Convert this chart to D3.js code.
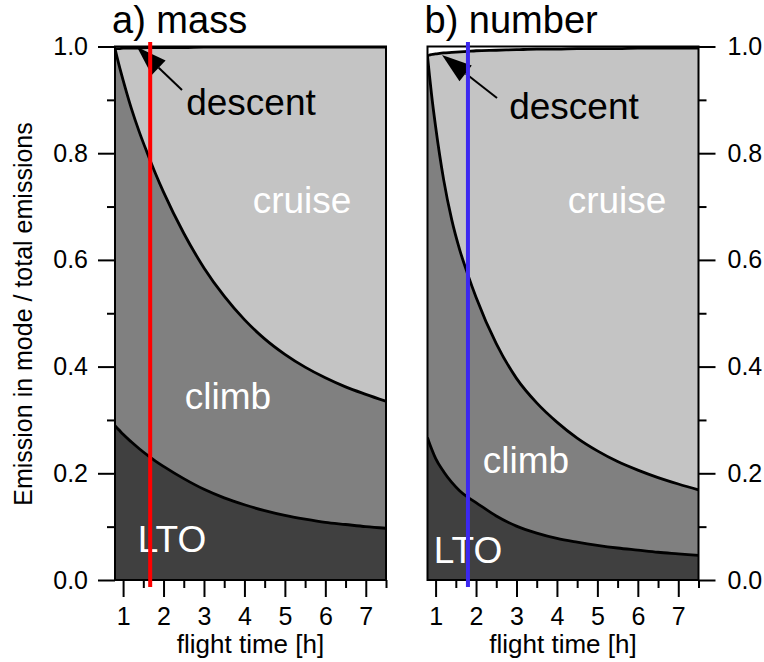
<!DOCTYPE html>
<html>
<head>
<meta charset="utf-8">
<script src="https://cdn.jsdelivr.net/npm/d3@7"></script>
<style>
  body { margin: 0; background: #fff; }
  svg text { font-family: "Liberation Sans", Arial, sans-serif; }
</style>
</head>
<body>
<svg id="chart" width="764" height="662"></svg>
<script>
// flight time [h]
const hours = [0.8, 0.85, 0.9, 1.0, 1.2, 1.4, 1.6, 1.8, 2.0, 2.5, 3.0, 3.5, 4.0, 4.5, 5.0, 5.5, 6.0, 6.5, 7.0, 7.5];

// a) mass - cumulative fractions (top of each mode)
const ltoTopMass    = [0.289, 0.285, 0.281, 0.273, 0.259, 0.246, 0.234, 0.223, 0.213, 0.190, 0.170, 0.154, 0.141, 0.130, 0.121, 0.114, 0.108, 0.104, 0.100, 0.097];
const climbTopMass  = [0.996, 0.980, 0.965, 0.937, 0.885, 0.840, 0.800, 0.762, 0.727, 0.650, 0.585, 0.532, 0.488, 0.452, 0.423, 0.399, 0.379, 0.362, 0.348, 0.335];
const cruiseTopMass = [0.996, 0.996, 0.996, 0.997, 0.997, 0.997, 0.998, 0.998, 0.998, 0.998, 0.999, 0.999, 0.999, 0.999, 0.999, 0.999, 0.999, 0.999, 0.999, 0.999];

// b) number - cumulative fractions
const ltoTopNum    = [0.267, 0.256, 0.246, 0.228, 0.203, 0.183, 0.167, 0.155, 0.145, 0.120, 0.101, 0.088, 0.078, 0.071, 0.065, 0.060, 0.056, 0.052, 0.049, 0.046];
const climbTopNum  = [0.982, 0.945, 0.910, 0.850, 0.750, 0.675, 0.618, 0.572, 0.530, 0.443, 0.378, 0.332, 0.296, 0.266, 0.242, 0.222, 0.206, 0.192, 0.180, 0.169];
const cruiseTopNum = [0.982, 0.984, 0.985, 0.986, 0.988, 0.989, 0.990, 0.991, 0.992, 0.993, 0.994, 0.995, 0.995, 0.996, 0.996, 0.996, 0.997, 0.997, 0.997, 0.997];

// typical flight time marked in each panel
const markerMass = 1.67;
const markerNum = 1.8;

const xTicks = [1, 2, 3, 4, 5, 6, 7];
const xMinorTicks = [1.5, 2.5, 3.5, 4.5, 5.5, 6.5, 7.5];
const yTicks = [0, 0.2, 0.4, 0.6, 0.8, 1.0];
const yMinorTicks = [0.1, 0.3, 0.5, 0.7, 0.9];

const svg = d3.select("#chart");
const plotTop = 46.5, plotBottom = 580;

const y = d3.scaleLinear().domain([0, 1]).range([plotBottom, plotTop]);

// y axis title
svg.append("text")
  .attr("transform", "translate(32,314) rotate(-90)")
  .attr("text-anchor", "middle")
  .style("font-size", "25px")
  .text("Emission in mode / total emissions");

function arrow(g, tail, tip, headLen, headW) {
  const dx = tail[0] - tip[0], dy = tail[1] - tip[1];
  const len = Math.hypot(dx, dy);
  const ux = dx / len, uy = dy / len;
  const bx = tip[0] + ux * headLen, by = tip[1] + uy * headLen;
  g.append("line")
    .attr("x1", bx).attr("y1", by)
    .attr("x2", tail[0]).attr("y2", tail[1])
    .attr("stroke", "#000").attr("stroke-width", 2);
  g.append("polygon")
    .attr("points", [
      tip,
      [bx - uy * headW / 2, by + ux * headW / 2],
      [bx + uy * headW / 2, by - ux * headW / 2]
    ].map(p => p.join(",")).join(" "))
    .attr("fill", "#000");
}

function drawPanel(cfg) {
  const x = d3.scaleLinear().domain([0.8, 7.5]).range([cfg.left, cfg.right]);
  const g = svg.append("g");

  const rows = hours.map((h, i) => ({
    h: h,
    lto: cfg.lto[i],
    climb: cfg.climb[i],
    cruise: cfg.cruise[i]
  }));

  const clipId = "clip-" + cfg.id;
  svg.append("clipPath").attr("id", clipId)
    .append("rect")
    .attr("x", cfg.left).attr("y", plotTop)
    .attr("width", cfg.right - cfg.left).attr("height", plotBottom - plotTop);

  const plot = g.append("g").attr("clip-path", `url(#${clipId})`);

  // background = descent (white)
  plot.append("rect")
    .attr("x", cfg.left).attr("y", plotTop)
    .attr("width", cfg.right - cfg.left).attr("height", plotBottom - plotTop)
    .attr("fill", "#ffffff");

  const layers = [
    { lo: d => 0, hi: d => d.lto, fill: "#404040" },
    { lo: d => d.lto, hi: d => d.climb, fill: "#808080" },
    { lo: d => d.climb, hi: d => d.cruise, fill: "#c4c4c4" }
  ];

  layers.forEach(l => {
    const area = d3.area()
      .x(d => x(d.h))
      .y0(d => y(l.lo(d)))
      .y1(d => y(l.hi(d)))
      .curve(d3.curveMonotoneX);
    plot.append("path").datum(rows)
      .attr("d", area)
      .attr("fill", l.fill);
  });

  ["lto", "climb", "cruise"].forEach(k => {
    const line = d3.line()
      .x(d => x(d.h))
      .y(d => y(d[k]))
      .curve(d3.curveMonotoneX);
    plot.append("path").datum(rows)
      .attr("d", line)
      .attr("fill", "none")
      .attr("stroke", "#000")
      .attr("stroke-width", 2.8);
  });

  // mode labels
  cfg.labels.forEach(t => {
    g.append("text")
      .attr("x", t.x).attr("y", t.y)
      .attr("text-anchor", "middle")
      .attr("fill", t.color || "#fff")
      .style("font-size", "37px")
      .text(t.text);
  });

  arrow(g, cfg.arrowTail, cfg.arrowTip, 30, 20);

  // x axis
  g.append("g").attr("transform", `translate(0,${plotBottom})`)
    .call(d3.axisBottom(x).tickValues(xTicks).tickSize(17).tickSizeOuter(0).tickPadding(10).tickFormat(d3.format("d")));
  g.append("g").attr("transform", `translate(0,${plotBottom})`)
    .call(d3.axisBottom(x).tickValues(xMinorTicks).tickSize(8).tickSizeOuter(0).tickFormat(""));

  // y axis on the left (a) or right (b)
  const axisFn = cfg.yRight ? d3.axisRight : d3.axisLeft;
  const yx = cfg.yRight ? cfg.right : cfg.left;
  g.append("g").attr("transform", `translate(${yx},0)`)
    .call(axisFn(y).tickValues(yTicks).tickSize(17).tickSizeOuter(0).tickPadding(cfg.yRight ? 12 : 10).tickFormat(d3.format(".1f")));
  g.append("g").attr("transform", `translate(${yx},0)`)
    .call(axisFn(y).tickValues(yMinorTicks).tickSize(8).tickSizeOuter(0).tickFormat(""));

  g.selectAll(".domain").remove();
  g.selectAll(".tick line").attr("stroke", "#000").attr("stroke-width", 2);
  g.selectAll(".tick text").attr("fill", "#000").style("font-size", "25px").style("font-family", "'Liberation Sans', Arial, sans-serif");

  // frame
  g.append("rect")
    .attr("x", cfg.left).attr("y", plotTop)
    .attr("width", cfg.right - cfg.left).attr("height", plotBottom - plotTop)
    .attr("fill", "none").attr("stroke", "#000").attr("stroke-width", 2);

  // flight time marker
  g.append("line")
    .attr("x1", x(cfg.marker)).attr("x2", x(cfg.marker))
    .attr("y1", 42).attr("y2", 587)
    .attr("stroke", cfg.markerColor).attr("stroke-width", 4);

  // panel title
  g.append("text")
    .attr("x", cfg.left - 3).attr("y", 33)
    .style("font-size", "38px")
    .text(cfg.title);

  // x axis title
  g.append("text")
    .attr("x", (cfg.left + cfg.right) / 2).attr("y", 653)
    .attr("text-anchor", "middle")
    .style("font-size", "26px")
    .text("flight time [h]");
}

drawPanel({
  id: "mass", left: 115, right: 386, yRight: false,
  lto: ltoTopMass, climb: climbTopMass, cruise: cruiseTopMass,
  marker: markerMass, markerColor: "#ff0000",
  title: "a) mass",
  arrowTip: [137, 47], arrowTail: [182, 90],
  labels: [
    { text: "descent", x: 251, y: 115, color: "#000" },
    { text: "cruise", x: 302, y: 213 },
    { text: "climb", x: 228, y: 409 },
    { text: "LTO", x: 172, y: 552 }
  ]
});

drawPanel({
  id: "num", left: 427.5, right: 698.5, yRight: true,
  lto: ltoTopNum, climb: climbTopNum, cruise: cruiseTopNum,
  marker: markerNum, markerColor: "#3c28f0",
  title: "b) number",
  arrowTip: [442, 55], arrowTail: [497, 98],
  labels: [
    { text: "descent", x: 574, y: 119, color: "#000" },
    { text: "cruise", x: 617, y: 213 },
    { text: "climb", x: 526, y: 473 },
    { text: "LTO", x: 468, y: 563 }
  ]
});
</script>
</body>
</html>
